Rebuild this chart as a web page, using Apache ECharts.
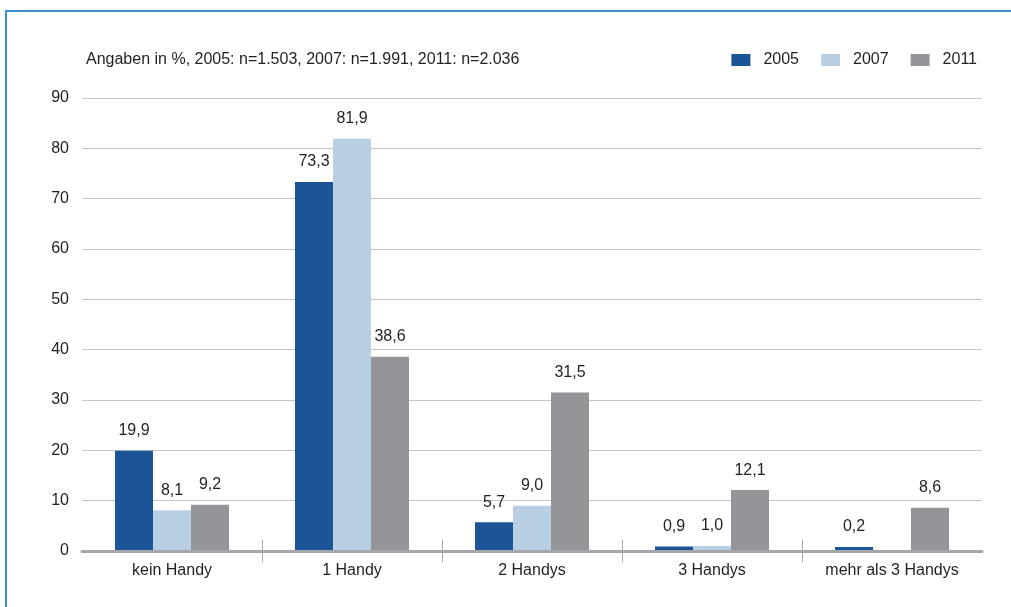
<!DOCTYPE html>
<html>
<head>
<meta charset="utf-8">
<script src="https://cdn.jsdelivr.net/npm/echarts@6/dist/echarts.min.js"></script>
<style>
  html, body { margin: 0; padding: 0; background: #fff; }
  #wrap { position: relative; width: 1011px; height: 607px; overflow: hidden; }
  #chart { position: absolute; left: 0; top: 0; width: 1011px; height: 607px; }
  #frame { position: absolute; left: 5px; top: 10px; width: 1100px; height: 700px;
           border-left: 2px solid #3d8fd1; border-top: 2px solid #3d8fd1; pointer-events: none; }
</style>
</head>
<body>
<div id="wrap">
  <div id="chart"></div>
  <div id="frame"></div>
</div>
<script>
// Handy ownership, share in percent
const categories = ['kein Handy', '1 Handy', '2 Handys', '3 Handys', 'mehr als 3 Handys'];
const years = ['2005', '2007', '2011'];
const values2005 = [19.9, 73.3, 5.7, 0.9, 0.2];
const values2007 = [8.1, 81.9, 9.0, 1.0, null];
const values2011 = [9.2, 38.6, 31.5, 12.1, 8.6];
const yTicks = [0, 10, 20, 30, 40, 50, 60, 70, 80, 90];
const subtitle = 'Angaben in %, 2005: n=1.503, 2007: n=1.991, 2011: n=2.036';

const colors = ['#1b5497', '#b9cfe4', '#939598'];
const FONT = '"Liberation Sans", Arial, sans-serif';
const FS = 16;
const TEXT = '#231f20';
const AXIS_GREY = '#a5a7aa';

// category separators sit halfway between neighbouring groups
const separators = categories.slice(1).map((_, i) => i + 0.5);

const fmt = v => (v == null ? '' : v.toFixed(1).replace('.', ','));

function barSeries(name, data, color) {
  return {
    name: name,
    type: 'bar',
    xAxisIndex: 0,
    yAxisIndex: 0,
    data: data,
    barWidth: 38,
    barGap: '0%',
    barMinHeight: 4,
    itemStyle: { color: color },
    label: {
      show: true,
      position: 'top',
      distance: 12,
      formatter: p => fmt(p.value),
      color: TEXT,
      fontFamily: FONT,
      fontSize: FS
    }
  };
}

const sepAxis = (inside) => ({
  type: 'value',
  min: -0.5,
  max: categories.length - 0.5,
  position: 'bottom',
  axisLine: { show: false },
  splitLine: { show: false },
  axisLabel: { show: false },
  axisTick: {
    show: true,
    inside: inside,
    length: 11,
    customValues: separators,
    lineStyle: { color: AXIS_GREY, width: 1 }
  }
});

const chart = echarts.init(document.getElementById('chart'), null, { renderer: 'canvas' });
chart.setOption({
  animation: false,
  backgroundColor: '#ffffff',
  title: {
    text: subtitle,
    left: 81,
    top: 47,
    textStyle: { color: TEXT, fontFamily: FONT, fontSize: FS, fontWeight: 'normal' }
  },
  legend: {
    data: years,
    right: 29,
    top: 47,
    itemWidth: 19,
    itemHeight: 12,
    itemGap: 22,
    icon: 'rect',
    textStyle: { color: TEXT, fontFamily: FONT, fontSize: FS, padding: [0, 0, 0, 8] }
  },
  grid: { left: 82, right: 29, top: 98, bottom: 56, containLabel: false },
  xAxis: [
    {
      type: 'category',
      data: categories,
      z: 3,
      axisLine: { show: true, lineStyle: { color: AXIS_GREY, width: 3 } },
      axisTick: { show: false },
      axisLabel: { color: TEXT, fontFamily: FONT, fontSize: FS, margin: 12 }
    },
    sepAxis(false),
    sepAxis(true)
  ],
  yAxis: {
    type: 'value',
    min: yTicks[0],
    max: yTicks[yTicks.length - 1],
    interval: 10,
    axisLine: { show: false },
    axisTick: { show: false },
    axisLabel: { color: TEXT, fontFamily: FONT, fontSize: FS, margin: 13 },
    splitLine: { lineStyle: { color: '#c6c6c6', width: 1 } }
  },
  series: [
    barSeries(years[0], values2005, colors[0]),
    barSeries(years[1], values2007, colors[1]),
    barSeries(years[2], values2011, colors[2])
  ]
});
</script>
</body>
</html>
